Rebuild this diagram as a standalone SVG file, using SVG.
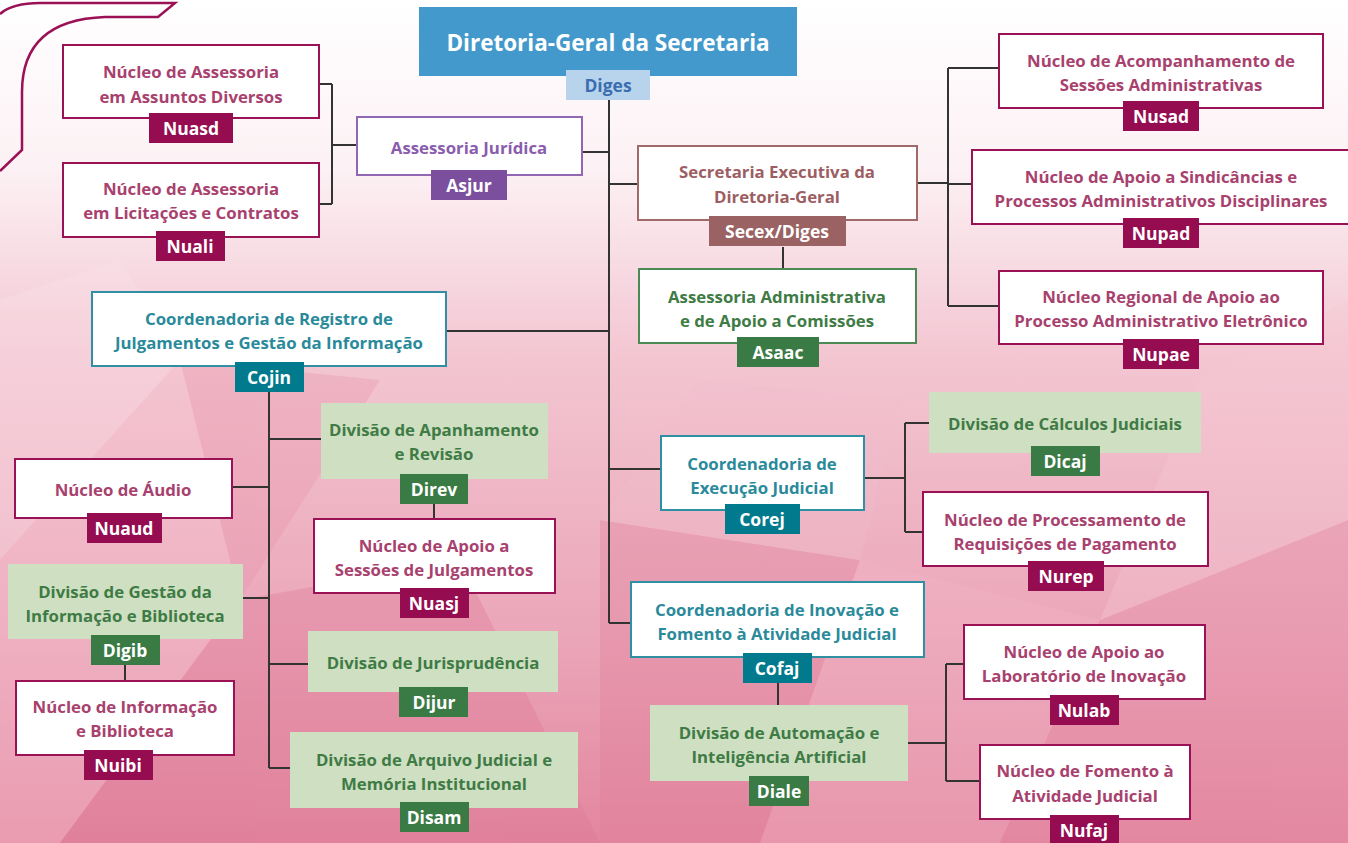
<svg xmlns="http://www.w3.org/2000/svg" width="1348" height="843" viewBox="0 0 1348 843">
<defs>
<linearGradient id="bg" x1="0" y1="0" x2="0" y2="1">
<stop offset="0" stop-color="#ffffff"/>
<stop offset="0.2" stop-color="#fcf1f4"/>
<stop offset="0.42" stop-color="#f3c6d2"/>
<stop offset="0.75" stop-color="#eba6b9"/>
<stop offset="1" stop-color="#e3869f"/>
</linearGradient>
<style>
.t{font-family:"Open Sans","Noto Sans","Liberation Sans",sans-serif;font-weight:700;font-size:16.8px;text-anchor:middle;dominant-baseline:central}
.tag{font-family:"Open Sans","Noto Sans","Liberation Sans",sans-serif;font-weight:700;font-size:17.5px;text-anchor:middle;dominant-baseline:central;fill:#fff}
.bm{fill:#fff;stroke:#9b1155;stroke-width:2}
.tm{fill:#a8416e}
.gm{fill:#960c50}
.bt{fill:#fff;stroke:#2e90a2;stroke-width:2}
.tt{fill:#2a8a9b}
.gt{fill:#007a8c}
.bg2{fill:#cfdfc2}
.tg{fill:#3e7b45}
.gg{fill:#3a7a44}
.ln{fill:none;stroke:#333;stroke-width:2}
</style>
</defs>
<rect x="0" y="0" width="1348" height="843" fill="url(#bg)"/>
<g opacity="0.35">
<polygon points="0,560 180,360 240,600 60,843 0,843" fill="#f7c4d2"/>
<polygon points="180,360 380,380 240,600" fill="#e994ab"/>
<polygon points="240,600 460,560 600,843 60,843" fill="#dd7896"/>
<polygon points="600,520 860,560 760,843 600,843" fill="#e07f9b"/>
<polygon points="860,560 1100,620 1000,843 760,843" fill="#f2b5c6"/>
<polygon points="1100,620 1348,520 1348,843 1000,843" fill="#e58ba5"/>
<polygon points="1200,380 1348,300 1348,520 1100,620" fill="#f5c8d5"/>
<polygon points="0,300 120,260 180,360 0,560" fill="#fbe3ea"/>
<polygon points="700,380 900,400 860,560 600,520" fill="#f0bccb"/>
</g>
<path d="M0,14 Q12,3 40,3 H175 L158,17 H105 Q22,20 22,92 V150 L0,171" fill="none" stroke="#9b1155" stroke-width="2.5"/>
<g id="connectors">
<path class="ln" d="M609,100 V623 M582,152 H609 M609,184 H638 M446,331 H609 M609,469 H661 M609,623 H631"/>
<path class="ln" d="M357,145 H332 M332,84 V204 M319,84 H332 M319,204 H332"/>
<path class="ln" d="M917,183 H948 M948,68 V306 M948,68 H999 M948,184 H972 M948,306 H999"/>
<path class="ln" d="M783,247 V269"/>
<path class="ln" d="M269,392 V768 M269,439 H321 M232,487 H269 M243,598 H269 M269,664 H308 M269,768 H290"/>
<path class="ln" d="M434,504 V519 M125,665 V681"/>
<path class="ln" d="M864,478 H905 M905,423 V532 M905,423 H929 M905,532 H923"/>
<path class="ln" d="M778,683 V705 M908,743 H946 M946,664 V781 M946,664 H964 M946,781 H980"/>
</g>
<g id="diges">
<rect x="419" y="7" width="378" height="69" fill="#4399cc"/>
<text class="t" x="608" y="42" style="font-size:22.5px" fill="#fff">Diretoria-Geral da Secretaria</text>
<rect x="566" y="70" width="84" height="30" fill="#b8d4ec"/>
<text class="tag" x="608" y="85" style="fill:#3b6db0">Diges</text>
</g>
<g id="asjur">
<rect x="357" y="117" width="225" height="58" fill="#fff" stroke="#9166b5" stroke-width="2"/>
<text class="t" x="469" y="147" fill="#8a5cae">Assessoria Jurídica</text>
<rect x="431" y="170" width="76" height="30" fill="#7b4f9e"/>
<text class="tag" x="469" y="185">Asjur</text>
</g>
<g id="nuasd">
<rect class="bm" x="63" y="45" width="256" height="73"/>
<text class="t tm" x="191" y="71">Núcleo de Assessoria</text>
<text class="t tm" x="191" y="96">em Assuntos Diversos</text>
<rect class="gm" x="149" y="113" width="84" height="30"/>
<text class="tag" x="191" y="128">Nuasd</text>
</g>
<g id="nuali">
<rect class="bm" x="63" y="163" width="256" height="74"/>
<text class="t tm" x="191" y="188">Núcleo de Assessoria</text>
<text class="t tm" x="191" y="212">em Licitações e Contratos</text>
<rect class="gm" x="156" y="231" width="69" height="30"/>
<text class="tag" x="190" y="246">Nuali</text>
</g>
<g id="secex">
<rect x="638" y="146" width="279" height="74" fill="#fff" stroke="#a06a6a" stroke-width="2"/>
<text class="t" x="777" y="171" fill="#9c5e62">Secretaria Executiva da</text>
<text class="t" x="777" y="196" fill="#9c5e62">Diretoria-Geral</text>
<rect x="709" y="216" width="137" height="30" fill="#9a6262"/>
<text class="tag" x="777" y="231">Secex/Diges</text>
</g>
<g id="asaac">
<rect x="639" y="269" width="277" height="74" fill="#fff" stroke="#4b8a52" stroke-width="2"/>
<text class="t tg" x="777" y="296">Assessoria Administrativa</text>
<text class="t tg" x="777" y="320">e de Apoio a Comissões</text>
<rect class="gg" x="737" y="337" width="82" height="30"/>
<text class="tag" x="778" y="352">Asaac</text>
</g>
<g id="nusad">
<rect class="bm" x="999" y="34" width="324" height="74"/>
<text class="t tm" x="1161" y="60">Núcleo de Acompanhamento de</text>
<text class="t tm" x="1161" y="84">Sessões Administrativas</text>
<rect class="gm" x="1123" y="101" width="76" height="30"/>
<text class="tag" x="1161" y="116">Nusad</text>
</g>
<g id="nupad">
<rect class="bm" x="972" y="150" width="380" height="74"/>
<text class="t tm" x="1161" y="176">Núcleo de Apoio a Sindicâncias e</text>
<text class="t tm" x="1161" y="200">Processos Administrativos Disciplinares</text>
<rect class="gm" x="1123" y="218" width="76" height="30"/>
<text class="tag" x="1161" y="233">Nupad</text>
</g>
<g id="nupae">
<rect class="bm" x="999" y="271" width="324" height="73"/>
<text class="t tm" x="1161" y="296">Núcleo Regional de Apoio ao</text>
<text class="t tm" x="1161" y="320">Processo Administrativo Eletrônico</text>
<rect class="gm" x="1123" y="339" width="76" height="30"/>
<text class="tag" x="1161" y="354">Nupae</text>
</g>
<g id="cojin">
<rect class="bt" x="92" y="292" width="354" height="74"/>
<text class="t tt" x="269" y="318">Coordenadoria de Registro de</text>
<text class="t tt" x="269" y="342">Julgamentos e Gestão da Informação</text>
<rect class="gt" x="235" y="362" width="69" height="30"/>
<text class="tag" x="269" y="377">Cojin</text>
</g>
<g id="direv">
<rect class="bg2" x="321" y="403" width="227" height="76"/>
<text class="t tg" x="434" y="429">Divisão de Apanhamento</text>
<text class="t tg" x="434" y="453">e Revisão</text>
<rect class="gg" x="400" y="474" width="68" height="30"/>
<text class="tag" x="434" y="489">Direv</text>
</g>
<g id="nuasj">
<rect class="bm" x="314" y="519" width="241" height="74"/>
<text class="t tm" x="434" y="545">Núcleo de Apoio a</text>
<text class="t tm" x="434" y="569">Sessões de Julgamentos</text>
<rect class="gm" x="400" y="588" width="69" height="30"/>
<text class="tag" x="434" y="603">Nuasj</text>
</g>
<g id="nuaud">
<rect class="bm" x="15" y="459" width="217" height="59"/>
<text class="t tm" x="123" y="489">Núcleo de Áudio</text>
<rect class="gm" x="87" y="513" width="75" height="30"/>
<text class="tag" x="124" y="528">Nuaud</text>
</g>
<g id="digib">
<rect class="bg2" x="8" y="564" width="235" height="75"/>
<text class="t tg" x="125" y="591">Divisão de Gestão da</text>
<text class="t tg" x="125" y="615">Informação e Biblioteca</text>
<rect class="gg" x="91" y="635" width="69" height="30"/>
<text class="tag" x="125" y="650">Digib</text>
</g>
<g id="nuibi">
<rect class="bm" x="16" y="681" width="218" height="74"/>
<text class="t tm" x="125" y="706">Núcleo de Informação</text>
<text class="t tm" x="125" y="730">e Biblioteca</text>
<rect class="gm" x="84" y="750" width="69" height="30"/>
<text class="tag" x="118" y="765">Nuibi</text>
</g>
<g id="dijur">
<rect class="bg2" x="308" y="631" width="250" height="61"/>
<text class="t tg" x="433" y="662">Divisão de Jurisprudência</text>
<rect class="gg" x="399" y="687" width="69" height="30"/>
<text class="tag" x="434" y="702">Dijur</text>
</g>
<g id="disam">
<rect class="bg2" x="290" y="732" width="288" height="76"/>
<text class="t tg" x="434" y="759">Divisão de Arquivo Judicial e</text>
<text class="t tg" x="434" y="783">Memória Institucional</text>
<rect class="gg" x="400" y="802" width="69" height="30"/>
<text class="tag" x="434" y="817">Disam</text>
</g>
<g id="corej">
<rect class="bt" x="661" y="436" width="203" height="74"/>
<text class="t tt" x="762" y="463">Coordenadoria de</text>
<text class="t tt" x="762" y="487">Execução Judicial</text>
<rect class="gt" x="725" y="504" width="75" height="30"/>
<text class="tag" x="762" y="519">Corej</text>
</g>
<g id="dicaj">
<rect class="bg2" x="929" y="392" width="272" height="61"/>
<text class="t tg" x="1065" y="423">Divisão de Cálculos Judiciais</text>
<rect class="gg" x="1031" y="446" width="69" height="30"/>
<text class="tag" x="1065" y="461">Dicaj</text>
</g>
<g id="nurep">
<rect class="bm" x="923" y="492" width="285" height="74"/>
<text class="t tm" x="1065" y="519">Núcleo de Processamento de</text>
<text class="t tm" x="1065" y="543">Requisições de Pagamento</text>
<rect class="gm" x="1028" y="561" width="76" height="30"/>
<text class="tag" x="1066" y="576">Nurep</text>
</g>
<g id="cofaj">
<rect class="bt" x="631" y="582" width="293" height="75"/>
<text class="t tt" x="777" y="609">Coordenadoria de Inovação e</text>
<text class="t tt" x="777" y="633">Fomento à Atividade Judicial</text>
<rect class="gt" x="743" y="653" width="69" height="30"/>
<text class="tag" x="777" y="668">Cofaj</text>
</g>
<g id="diale">
<rect class="bg2" x="650" y="705" width="258" height="76"/>
<text class="t tg" x="779" y="732">Divisão de Automação e</text>
<text class="t tg" x="779" y="756">Inteligência Artificial</text>
<rect class="gg" x="749" y="776" width="60" height="30"/>
<text class="tag" x="779" y="791">Diale</text>
</g>
<g id="nulab">
<rect class="bm" x="964" y="625" width="241" height="74"/>
<text class="t tm" x="1084" y="651">Núcleo de Apoio ao</text>
<text class="t tm" x="1084" y="675">Laboratório de Inovação</text>
<rect class="gm" x="1050" y="695" width="69" height="30"/>
<text class="tag" x="1084" y="710">Nulab</text>
</g>
<g id="nufaj">
<rect class="bm" x="980" y="745" width="210" height="74"/>
<text class="t tm" x="1085" y="770">Núcleo de Fomento à</text>
<text class="t tm" x="1085" y="795">Atividade Judicial</text>
<rect class="gm" x="1050" y="815" width="69" height="30"/>
<text class="tag" x="1084" y="830">Nufaj</text>
</g>
</svg>
